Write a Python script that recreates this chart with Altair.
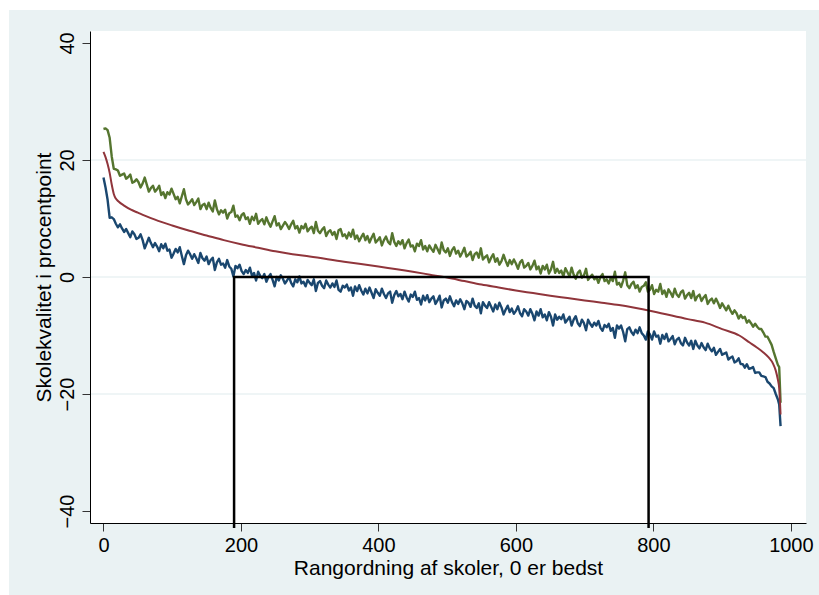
import altair as alt
import pandas as pd

W, H = 716, 492
FONT = "Liberation Sans"

# school ranks (0 = best) for the confidence band series
ranks = list(range(0, 982, 3)) + [983, 985]

upper = [
    25.3, 25.4, 25.1, 23.8, 20.6, 18.5, 18.4, 18.2, 17.3, 17.5,
    17.7, 16.8, 17.1, 17.5, 16.1, 16.3, 16.7, 16.2, 15.3, 16.0,
    17.0, 15.8, 14.6, 15.2, 15.6, 14.6, 15.0, 15.6, 14.0, 14.5,
    13.5, 14.5, 14.1, 15.1, 14.2, 13.3, 13.7, 12.6, 13.8, 15.0,
    13.3, 12.4, 12.8, 13.3, 12.3, 12.8, 13.4, 11.6, 12.3, 12.5,
    11.6, 12.7, 11.8, 11.2, 13.1, 11.6, 10.7, 11.4, 11.0, 11.5,
    10.0, 10.9, 11.1, 12.2, 10.3, 10.5, 9.7, 10.6, 10.9, 9.9,
    10.2, 9.1, 10.3, 9.7, 10.8, 9.1, 9.6, 9.9, 9.0, 10.2,
    9.3, 8.6, 9.5, 10.4, 8.8, 9.2, 8.2, 8.8, 9.4, 8.9,
    8.2, 9.0, 9.6, 8.3, 8.7, 7.6, 8.7, 8.3, 9.1, 7.8,
    8.3, 8.6, 7.5, 9.4, 7.9, 7.5, 8.1, 8.5, 7.0, 7.7,
    8.0, 7.2, 7.7, 6.5, 8.0, 8.2, 7.0, 7.3, 6.6, 7.6,
    6.9, 8.1, 6.5, 7.1, 6.1, 6.8, 7.4, 6.3, 7.0, 5.9,
    6.7, 7.4, 5.9, 6.3, 6.8, 5.4, 6.3, 6.9, 6.0, 5.6,
    7.5, 6.0, 5.3, 6.1, 5.6, 6.3, 4.9, 5.8, 6.4, 5.2,
    5.4, 4.4, 5.7, 5.3, 6.3, 4.7, 5.3, 4.4, 5.4, 4.8,
    4.3, 5.5, 4.8, 4.0, 5.9, 4.6, 4.2, 4.9, 3.6, 4.6,
    5.1, 4.0, 4.5, 3.5, 4.2, 5.0, 3.5, 3.8, 4.3, 2.9,
    3.9, 4.2, 3.3, 4.9, 3.0, 3.4, 3.7, 2.5, 3.3, 3.9,
    2.6, 3.2, 2.1, 2.7, 3.8, 2.8, 1.9, 2.9, 2.2, 3.0,
    2.3, 1.4, 2.5, 2.9, 1.6, 1.9, 2.4, 1.3, 1.9, 2.8,
    1.3, 1.8, 0.6, 1.9, 1.3, 2.1, 0.6, 1.3, 2.6, 0.7,
    1.4, 0.7, 1.1, 0.1, 1.5, 0.8, 0.1, 1.6, 0.4, -0.3,
    0.7, 1.1, -0.1, 0.3, 1.4, -0.5, 0.0, 0.4, -0.4, 0.0,
    -1.0, 0.0, 0.5, -0.7, -0.4, -1.1, -0.1, -0.7, 0.9, -1.3,
    -1.0, -1.7, -0.6, 0.8, -1.4, -1.9, -1.2, -0.8, -1.9, -1.4,
    -2.5, -1.7, -1.5, -0.9, -2.5, -2.2, -1.4, -2.9, -2.2, -2.5,
    -1.2, -2.9, -2.3, -3.4, -2.1, -2.7, -3.4, -2.0, -3.0, -3.4,
    -2.6, -2.3, -3.7, -3.1, -2.7, -3.6, -2.4, -4.0, -3.3, -3.0,
    -4.1, -3.5, -3.1, -4.6, -4.0, -3.7, -4.5, -3.7, -4.4, -5.3,
    -4.5, -5.1, -5.7, -4.9, -5.7, -6.3, -5.7, -6.2, -7.1, -6.5,
    -7.0, -6.8, -7.8, -7.4, -7.9, -8.5, -8.0, -8.5, -8.9, -8.9,
    -9.5, -10.2, -10.2, -10.9, -11.6, -12.8, -13.9, -15.0, -15.4, -21.5,
]

lower = [
    17.0, 15.3, 13.2, 10.1, 10.2, 9.9, 9.1, 8.5, 9.0, 8.3,
    7.7, 8.2, 7.5, 6.8, 7.8, 7.3, 6.5, 6.7, 7.3, 6.3,
    4.9, 5.8, 6.7, 5.8, 5.1, 5.8, 5.2, 4.4, 5.6, 4.9,
    5.7, 4.5, 4.7, 3.3, 4.0, 4.8, 4.2, 5.1, 3.6, 2.2,
    3.7, 4.5, 3.9, 3.1, 3.9, 3.2, 2.4, 4.1, 3.2, 2.8,
    3.5, 2.2, 2.9, 3.3, 1.2, 2.5, 3.1, 2.1, 2.3, 1.6,
    2.9, 1.8, 1.4, 0.1, 1.9, 1.5, 2.1, 1.0, 0.5, 1.2,
    0.7, 1.6, 0.2, 0.7, -0.6, 0.9, 0.2, -0.2, 0.5, -0.8,
    0.0, 0.5, -0.5, -1.6, 0.0, -0.6, 0.3, -0.3, -1.1, -0.6,
    0.0, -1.0, -1.6, -0.4, -0.9, 0.1, -1.1, -0.8, -1.6, -0.5,
    -1.0, -1.4, -0.4, -2.4, -1.0, -0.7, -1.5, -1.9, -0.6, -1.3,
    -1.8, -1.1, -1.7, -0.6, -2.2, -2.5, -1.5, -1.8, -1.3, -2.3,
    -1.8, -3.2, -1.6, -2.4, -1.4, -2.3, -3.0, -2.0, -2.8, -1.8,
    -2.7, -3.6, -2.1, -2.7, -3.2, -2.0, -2.9, -3.6, -2.8, -2.5,
    -4.4, -3.1, -2.4, -3.3, -2.9, -3.8, -2.5, -3.5, -4.2, -3.0,
    -3.4, -2.5, -3.9, -3.6, -4.7, -3.2, -4.0, -3.1, -4.3, -3.7,
    -3.3, -4.6, -4.0, -3.2, -5.2, -4.0, -3.7, -4.4, -3.3, -4.3,
    -5.0, -4.0, -4.6, -3.8, -4.5, -5.5, -4.1, -4.4, -5.1, -3.7,
    -4.9, -5.3, -4.5, -6.2, -4.3, -4.9, -5.3, -4.3, -5.1, -5.9,
    -4.7, -5.5, -4.4, -5.2, -6.4, -5.6, -4.9, -6.0, -5.4, -6.3,
    -5.8, -5.0, -6.2, -6.7, -5.5, -5.9, -6.6, -5.5, -6.3, -7.4,
    -5.9, -6.6, -5.5, -6.9, -6.4, -7.4, -6.0, -6.8, -8.3, -6.4,
    -7.3, -6.8, -7.2, -6.4, -7.8, -7.3, -6.8, -8.3, -7.3, -6.7,
    -7.9, -8.4, -7.3, -7.9, -9.1, -7.3, -8.0, -8.5, -7.8, -8.3,
    -7.5, -8.7, -9.2, -8.2, -8.6, -8.0, -9.2, -8.7, -10.4, -8.3,
    -8.8, -8.3, -9.4, -11.0, -8.9, -8.6, -9.4, -9.9, -9.0, -9.6,
    -8.6, -9.6, -10.0, -10.7, -9.3, -9.8, -10.7, -9.3, -10.2, -10.0,
    -11.4, -9.9, -10.6, -9.7, -11.0, -10.6, -10.1, -11.5, -10.7, -10.4,
    -11.3, -11.7, -10.4, -11.2, -11.7, -10.9, -12.3, -10.9, -11.7, -12.2,
    -11.3, -12.0, -12.5, -11.4, -12.2, -12.7, -12.1, -13.3, -12.8, -12.3,
    -13.3, -13.1, -12.9, -14.1, -13.8, -13.6, -14.6, -14.4, -13.9, -14.9,
    -14.9, -15.5, -14.9, -15.7, -15.6, -15.4, -16.4, -16.3, -16.3, -16.9,
    -17.0, -17.1, -17.9, -18.2, -18.7, -19.0, -20.0, -20.9, -21.8, -25.5,
]

est_rank = [0, 3, 6, 9, 12, 15, 18, 22, 30, 40,
            50, 60, 75, 100, 125, 150, 175, 200, 225, 250,
            275, 300, 350, 400, 450, 475, 500, 525, 550, 575,
            600, 625, 650, 675, 700, 725, 750, 800, 850, 875,
            900, 925, 940, 950, 960, 968, 974, 978, 981, 983,
            985]
est_value = [21.4, 20.5, 19.3, 17.8, 15.8, 14.2, 13.4, 12.9, 12.2, 11.5,
             11.0, 10.5, 9.8, 8.8, 7.9, 7.1, 6.3, 5.6, 5.0, 4.4,
             3.9, 3.5, 2.6, 1.8, 0.9, 0.4, -0.1, -0.7, -1.3, -1.8,
             -2.3, -2.75, -3.2, -3.6, -4.0, -4.4, -4.8, -5.9, -7.2, -7.8,
             -8.9, -10.0, -11.2, -12.0, -12.9, -13.8, -14.8, -16.0, -17.5, -19.0,
             -23.5]

box_rank = [190, 190, 793, 793]
box_value = [-42.9, 0, 0, -42.9]
box_order = [0, 1, 2, 3]

grid_values = [-20, 0, 20]
x_ticks = [0, 200, 400, 600, 800, 1000]
y_ticks = [-40, -20, 0, 20, 40]

ci = pd.DataFrame({"rank": ranks, "upper": upper, "lower": lower})
est = pd.DataFrame({"rank": est_rank, "value": est_value})
box = pd.DataFrame({"rank": box_rank, "value": box_value, "order": box_order})
grid = pd.DataFrame({"value": grid_values})
one = pd.DataFrame({"k": [0]})

xs = alt.Scale(domain=[-19.6, 1022], nice=False, zero=False)
ys = alt.Scale(domain=[-42.05, 42.05], nice=False, zero=False)

X_TITLE = "Rangordning af skoler, 0 er bedst"
Y_TITLE = "Skolekvalitet i procentpoint"

x_axis = alt.Axis(
    values=x_ticks, title=X_TITLE, grid=False, format="d",
    zindex=1, domainColor="#000000", domainWidth=1, tickColor="#333333",
    tickSize=8, tickWidth=1, labelFont=FONT, labelFontSize=20,
    labelColor="#000000", labelPadding=4, titleFont=FONT, titleFontSize=21,
    titleColor="#000000", titleFontWeight="normal", titlePadding=2,
)
y_axis = alt.Axis(
    values=y_ticks, title=Y_TITLE, grid=False, format="d",
    zindex=1, domainColor="#000000", domainWidth=1, tickColor="#333333",
    tickSize=8, tickWidth=1, labelFont=FONT, labelFontSize=20,
    labelColor="#000000", labelAngle=-90, labelAlign="center",
    labelBaseline="bottom", labelPadding=5, titleFont=FONT, titleFontSize=21,
    titleColor="#000000", titleFontWeight="normal", titlePadding=3,
)


def xenc():
    return alt.X("rank:Q", scale=xs, axis=x_axis, title=X_TITLE)


def yenc(field):
    return alt.Y(field, scale=ys, axis=y_axis, title=Y_TITLE)


outer_bg = alt.Chart(one).mark_rect(color="#EAF2F3").encode(
    x=alt.value(-81), x2=alt.value(W + 13), y=alt.value(-21), y2=alt.value(H + 72)
)
plot_bg = alt.Chart(one).mark_rect(color="#FFFFFF").encode(
    x=alt.value(0), x2=alt.value(W), y=alt.value(0), y2=alt.value(H)
)
grid_rules = alt.Chart(grid).mark_rule(color="#EAF2F3", strokeWidth=1.5).encode(
    y=yenc("value:Q"), x=alt.value(0), x2=alt.value(W)
)
upper_line = alt.Chart(ci).mark_line(color="#55752F", strokeWidth=2.4, strokeJoin="round").encode(
    x=xenc(), y=yenc("upper:Q"),
)
lower_line = alt.Chart(ci).mark_line(color="#1A476F", strokeWidth=2.4, strokeJoin="round").encode(
    x=xenc(), y=yenc("lower:Q"),
)
est_line = alt.Chart(est).mark_line(color="#90353B", strokeWidth=2, interpolate="monotone").encode(
    x=xenc(), y=yenc("value:Q"),
)
box_line = alt.Chart(box).mark_line(color="#000000", strokeWidth=2.5, strokeJoin="miter").encode(
    x=xenc(), y=yenc("value:Q"), order="order:Q",
)

chart = alt.layer(
    outer_bg, plot_bg, grid_rules, upper_line, lower_line, est_line, box_line
).properties(
    width=W, height=H,
    autosize=alt.AutoSizeParams(type="none"),
    padding={"left": 90, "top": 31, "right": 13, "bottom": 72},
    background="#FFFFFF",
).configure_view(stroke=None)

chart.save("out.html", embed_options={"renderer": "svg", "actions": False})
